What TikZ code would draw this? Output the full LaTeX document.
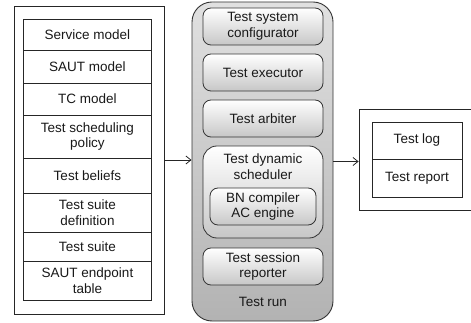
\documentclass[tikz,border=0pt]{standalone}
\usepackage{fontspec}
\setmainfont{Liberation Sans}
\usetikzlibrary{arrows.meta}
\begin{document}
\begin{tikzpicture}[x=1pt,y=-1pt,
  font=\fontsize{13.5}{15.5}\selectfont,
  sq/.style={draw=black!85, line width=0.8pt, fill=white, minimum width=128pt, inner sep=0pt, align=center, text=black!90},
  outer/.style={draw=black!85, line width=0.8pt, fill=white, inner sep=0pt},
  rbox/.style={draw=black!80, line width=0.8pt, rounded corners=8pt, top color=white, bottom color=black!22, minimum width=120pt, inner sep=0pt, align=center, text=black!90},
  arr/.style={draw=black!85, line width=0.8pt, -{Straight Barb[length=5pt,width=8pt]}}
]
\useasboundingbox (0,0) rectangle (471,323);
% left
\node[outer, minimum width=150pt, minimum height=308pt] (leftbox) at (89,160) {};
\node[sq, minimum height=31pt] (svc) at (87.5,34.5) {Service model};
\node[sq, minimum height=33pt] (saut) at (87.5,66.5) {SAUT model};
\node[sq, minimum height=32pt] (tc) at (87.5,99) {TC model};
\node[sq, minimum height=43pt] (pol) at (87.5,136.5) {Test scheduling\\policy};
\node[sq, minimum height=35pt] (bel) at (87.5,175.5) {Test beliefs};
\node[sq, minimum height=39pt] (def) at (87.5,212.5) {Test suite\\definition};
\node[sq, minimum height=29pt] (suite) at (87.5,246.5) {Test suite};
\node[sq, minimum height=39pt] (ept) at (87.5,280.5) {SAUT endpoint\\table};
% middle
\node[draw=black!80, line width=0.9pt, rounded corners=20pt, top color=black!12, bottom color=black!30, minimum width=141pt, minimum height=319pt, inner sep=0pt] (run) at (262.5,161.5) {};
\node[rbox, minimum height=37pt] (cfg) at (263,26.5) {Test system\\configurator};
\node[rbox, minimum height=37pt] (exe) at (263,72.5) {Test executor};
\node[rbox, minimum height=37pt] (arb) at (263,118.5) {Test arbiter};
\node[rbox, rounded corners=14pt, minimum height=92pt] (sch) at (263,192) {};
\node[align=center, text=black!90] (schlabel) at (263,166.5) {Test dynamic\\scheduler};
\node[rbox, minimum width=106pt, minimum height=37pt] (bn) at (263,206.5) {BN compiler\\AC engine};
\node[rbox, minimum height=37pt] (rep) at (263,266.5) {Test session\\reporter};
\node[text=black!90] (runlabel) at (263,302) {Test run};
% right
\node[outer, minimum width=116pt, minimum height=101pt] (outbox) at (417,159.5) {};
\node[sq, minimum width=90pt, minimum height=37pt] (log) at (417,140.5) {Test log};
\node[sq, minimum width=90pt, minimum height=38pt] (report) at (417,178) {Test report};
% arrows
\draw[arr] (leftbox.east) -- (leftbox.east -| run.west);
\draw[arr] (run.east) -- (run.east -| outbox.west);
\end{tikzpicture}
\end{document}
